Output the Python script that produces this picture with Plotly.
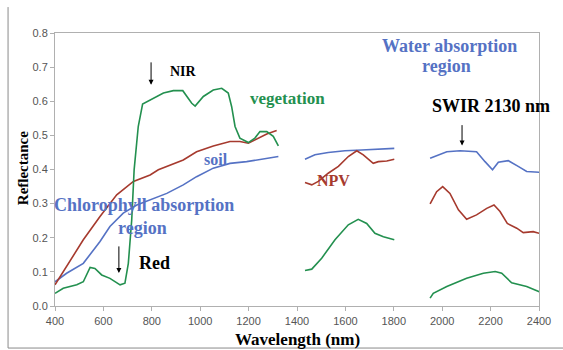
import plotly.graph_objects as go

# ---- data ----
veg_wl_1 = [400, 434, 490, 517, 545, 565, 593, 627, 669, 689, 703, 717, 727, 744, 762, 793, 848, 889, 928,
            965, 979, 1013, 1054, 1089, 1116, 1130, 1144, 1164, 1199, 1226, 1247, 1275, 1302, 1323]
veg_r_1 = [0.037, 0.052, 0.062, 0.071, 0.113, 0.110, 0.091, 0.081, 0.062, 0.067, 0.125, 0.252, 0.399, 0.526, 0.592,
           0.604, 0.624, 0.631, 0.631, 0.594, 0.586, 0.614, 0.633, 0.638, 0.624, 0.584, 0.526, 0.492, 0.479, 0.492,
           0.511, 0.511, 0.497, 0.469]
veg_wl_2 = [1433, 1461, 1502, 1557, 1612, 1653, 1688, 1722, 1757, 1802]
veg_r_2 = [0.104, 0.108, 0.140, 0.194, 0.238, 0.254, 0.242, 0.213, 0.203, 0.194]
veg_wl_3 = [1950, 1963, 2019, 2101, 2170, 2219, 2246, 2287, 2349, 2401]
veg_r_3 = [0.023, 0.037, 0.057, 0.081, 0.096, 0.101, 0.096, 0.068, 0.057, 0.042]

npv_wl_1 = [400, 448, 517, 586, 655, 724, 793, 827, 930, 985, 1054, 1123, 1164, 1199, 1233, 1275, 1316]
npv_r_1 = [0.062, 0.115, 0.194, 0.262, 0.326, 0.365, 0.384, 0.399, 0.428, 0.452, 0.469, 0.482, 0.482, 0.477,
           0.489, 0.504, 0.514]
npv_wl_2 = [1433, 1461, 1488, 1529, 1571, 1612, 1647, 1674, 1715, 1736, 1771, 1802]
npv_r_2 = [0.362, 0.355, 0.365, 0.389, 0.409, 0.438, 0.455, 0.443, 0.418, 0.423, 0.425, 0.430]
npv_wl_3 = [1950, 1977, 2002, 2032, 2067, 2101, 2142, 2184, 2214, 2239, 2269, 2308, 2335, 2376, 2401]
npv_r_3 = [0.299, 0.335, 0.350, 0.330, 0.282, 0.254, 0.267, 0.286, 0.296, 0.277, 0.242, 0.228, 0.215, 0.218,
           0.213]

soil_wl_1 = [400, 448, 517, 586, 627, 682, 738, 793, 862, 930, 985, 1054, 1123, 1192, 1261, 1323]
soil_r_1 = [0.071, 0.096, 0.125, 0.189, 0.233, 0.272, 0.296, 0.311, 0.330, 0.355, 0.379, 0.404, 0.418, 0.423,
            0.430, 0.438]
soil_wl_2 = [1433, 1474, 1529, 1598, 1667, 1736, 1802]
soil_r_2 = [0.430, 0.443, 0.450, 0.455, 0.457, 0.459, 0.462]
soil_wl_3 = [1950, 1977, 2019, 2074, 2142, 2177, 2208, 2232, 2273, 2314, 2349, 2401]
soil_r_3 = [0.433, 0.440, 0.452, 0.455, 0.452, 0.423, 0.399, 0.421, 0.426, 0.409, 0.394, 0.392]

x_ticks = [400, 600, 800, 1000, 1200, 1400, 1600, 1800, 2000, 2200, 2400]
y_ticks = [0.0, 0.1, 0.2, 0.3, 0.4, 0.5, 0.6, 0.7, 0.8]

GREEN = "#23904f"
RED = "#a63a2e"
BLUE = "#5572c4"


def joined(*segs):
    xs, ys = [], []
    for i in range(0, len(segs), 2):
        if xs:
            xs.append(None)
            ys.append(None)
        xs.extend(segs[i])
        ys.extend(segs[i + 1])
    return xs, ys


fig = go.Figure()
for name, col, segs in [
    ("soil", BLUE, (soil_wl_1, soil_r_1, soil_wl_2, soil_r_2, soil_wl_3, soil_r_3)),
    ("NPV", RED, (npv_wl_1, npv_r_1, npv_wl_2, npv_r_2, npv_wl_3, npv_r_3)),
    ("vegetation", GREEN, (veg_wl_1, veg_r_1, veg_wl_2, veg_r_2, veg_wl_3, veg_r_3)),
]:
    xs, ys = joined(*segs)
    fig.add_trace(go.Scatter(x=xs, y=ys, mode="lines", name=name, connectgaps=False,
                             line=dict(color=col, width=1.6), hoverinfo="skip"))

SERIF = "Liberation Serif, Times New Roman, serif"


def label(x, y, text, color, size=17):
    fig.add_annotation(x=x, y=y, xref="x", yref="y", text="<b>%s</b>" % text, showarrow=False,
                       font=dict(family=SERIF, size=size, color=color))


label(933, 0.686, "NIR", "black", 14)
label(1359, 0.607, "vegetation", GREEN, 17)
label(1065, 0.428, "soil", BLUE, 16)
label(1549, 0.367, "NPV", RED, 16)
label(766, 0.296, "Chlorophyll absorption", BLUE, 18)
label(760, 0.229, "region", BLUE, 18)
label(813, 0.126, "Red", "black", 18)
label(2032, 0.762, "Water absorption", BLUE, 18)
label(2016, 0.704, "region", BLUE, 18)
label(2202, 0.587, "SWIR 2130 nm", "black", 18)

for xw, y_tip, dy in [(797, 0.648, -24), (664, 0.097, -28), (2082, 0.470, -22)]:
    fig.add_annotation(x=xw, y=y_tip, xref="x", yref="y", text="", showarrow=True,
                       ax=0, ay=dy, arrowhead=2, arrowsize=1, arrowwidth=1, arrowcolor="black")

# axis titles
fig.add_annotation(x=0.5, y=-0.1245, xref="paper", yref="paper", text="<b>Wavelength (nm)</b>",
                   showarrow=False, xanchor="center", yanchor="middle",
                   font=dict(family=SERIF, size=17, color="black"))
fig.add_annotation(x=-0.066, y=0.505, xref="paper", yref="paper", text="<b>Reflectance</b>",
                   showarrow=False, xanchor="center", yanchor="middle", textangle=-90,
                   font=dict(family=SERIF, size=15, color="black"))

# outer frame lines (left and bottom)
fig.add_shape(type="line", xref="paper", yref="paper", x0=-0.097, x1=-0.097, y0=-0.154, y1=1.095,
              line=dict(color="#8a8a8a", width=1))
fig.add_shape(type="line", xref="paper", yref="paper", x0=-0.097, x1=1.06, y0=-0.154, y1=-0.154,
              line=dict(color="#8a8a8a", width=1))

fig.update_layout(
    width=563, height=350,
    margin=dict(l=55, r=24, t=33, b=44),
    paper_bgcolor="white", plot_bgcolor="white",
    showlegend=False,
    xaxis=dict(range=[400, 2400], tickvals=x_ticks, ticktext=[str(v) for v in x_ticks],
               showgrid=False, zeroline=False, showline=True, linecolor="#b0b0b0", linewidth=1,
               mirror=True, ticks="outside", ticklen=4, tickcolor="#b0b0b0", ticklabelstandoff=1,
               automargin=False,
               tickfont=dict(family="Liberation Sans, Arial, sans-serif", size=11, color="#555555")),
    yaxis=dict(range=[0, 0.8], tickvals=y_ticks, ticktext=["%.1f" % v for v in y_ticks],
               showgrid=False, zeroline=False, showline=True, linecolor="#b0b0b0", linewidth=1,
               mirror=True, ticks="outside", ticklen=4, tickcolor="#b0b0b0",
               automargin=False,
               tickfont=dict(family="Liberation Sans, Arial, sans-serif", size=11, color="#555555")),
)

fig.write_html("out.html")
